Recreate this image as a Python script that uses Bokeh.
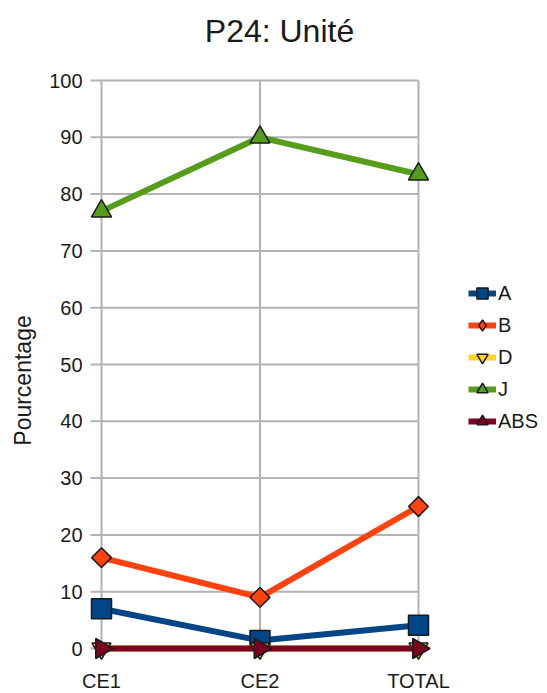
import math
from bokeh.plotting import figure
from bokeh.models import Range1d, Legend, LegendItem
from bokeh.core.properties import value
from bokeh.embed import file_html
from bokeh.resources import INLINE

title_text = "P24: Unité"
y_axis_title = "Pourcentage"
categories = ["CE1", "CE2", "TOTAL"]
series_names = ["A", "B", "D", "J", "ABS"]
values_A = [7, 1.4, 4.1]
values_B = [16, 9, 25]
values_D = [0, 0, 0]
values_J = [77, 90, 83.5]
values_ABS = [0, 0, 0]
y_ticks = [0, 10, 20, 30, 40, 50, 60, 70, 80, 90, 100]

series_values = [values_A, values_B, values_D, values_J, values_ABS]
colors = ["#004586", "#ff420e", "#ffd320", "#579d1c", "#7e0021"]
markers = ["square", "square", "inverted_triangle", "triangle", "triangle"]
legend_markers = ["square", "diamond", "inverted_triangle", "triangle", "triangle"]
angles = [0, math.pi / 4, 0, 0, -math.pi / 2]
sizes = [20, 14, 19, 20, 20]

FONT = "Liberation Sans"
GRID = "#b3b3b3"
TXT = "#1a1a1a"

W, H = 547, 693
PX_X = 158.5   # pixels per category step
PX_Y = 5.68    # pixels per percentage point
xs = list(range(len(categories)))
x_range = Range1d(-101 / PX_X, (len(xs) - 1) + 129 / PX_X)
y_range = Range1d(-45 / PX_Y, y_ticks[-1] + 80 / PX_Y)
tick_len = 11 / PX_X

p = figure(width=W, height=H, output_backend="svg", toolbar_location=None,
           x_range=x_range, y_range=y_range,
           x_axis_location=None, y_axis_location=None, min_border=0)
p.outline_line_color = None
p.background_fill_color = "white"
p.xgrid.grid_line_color = None
p.ygrid.grid_line_color = None

# grid lines (horizontal ones extend left as tick marks)
p.segment(x0=[-tick_len] * len(y_ticks), y0=y_ticks, x1=[xs[-1]] * len(y_ticks), y1=y_ticks,
          line_color=GRID, line_width=2)
p.segment(x0=xs, y0=[y_ticks[0]] * len(xs), x1=xs, y1=[y_ticks[-1]] * len(xs),
          line_color=GRID, line_width=2)

# y tick labels
p.text(x=[xs[0]] * len(y_ticks), y=y_ticks, text=[str(t) for t in y_ticks],
       x_offset=-19, text_align="right", text_baseline="middle",
       text_font=value(FONT), text_font_size="20px", text_color=TXT)
# x tick labels
p.text(x=xs, y=[y_ticks[0]] * len(xs), text=categories,
       y_offset=32, text_align="center", text_baseline="middle",
       text_font=value(FONT), text_font_size="20px", text_color=TXT)
# y axis title
p.text(x=[xs[0]], y=[(y_ticks[0] + y_ticks[-1]) / 2], text=[y_axis_title],
       x_offset=-79, y_offset=16, angle=math.pi / 2,
       text_align="center", text_baseline="middle",
       text_font=value(FONT), text_font_size="23px", text_color=TXT)
# chart title
p.text(x=[(xs[0] + xs[-1]) / 2], y=[y_ticks[-1]], text=[title_text],
       x_offset=19.5, y_offset=-50, text_align="center", text_baseline="middle",
       text_font=value(FONT), text_font_size="32px", text_color=TXT)

items = []
for name, vals, col, mk, lmk, ang, sz in zip(series_names, series_values, colors, markers,
                                             legend_markers, angles, sizes):
    # legend-only marker (size 0 in the plot; the legend sizes it from its box)
    lg = p.scatter(xs, vals, marker=lmk, size=0, fill_color=col,
                   line_color=TXT, line_width=1.5)
    ln = p.line(xs, vals, line_color=col, line_width=6)
    p.scatter(xs, vals, marker=mk, angle=ang, size=sz, fill_color=col,
              line_color=TXT, line_width=1.5)
    items.append(LegendItem(label=name, renderers=[ln, lg]))

legend = Legend(items=items, location=(468, 258), orientation="vertical",
                glyph_width=28, glyph_height=28, label_height=28, spacing=4,
                padding=0, margin=0, label_standoff=2,
                label_text_font=FONT, label_text_font_size="20px",
                label_text_color=TXT,
                border_line_color=None, background_fill_alpha=0)
p.add_layout(legend, "center")

open("out.html", "w").write(file_html(p, INLINE))
